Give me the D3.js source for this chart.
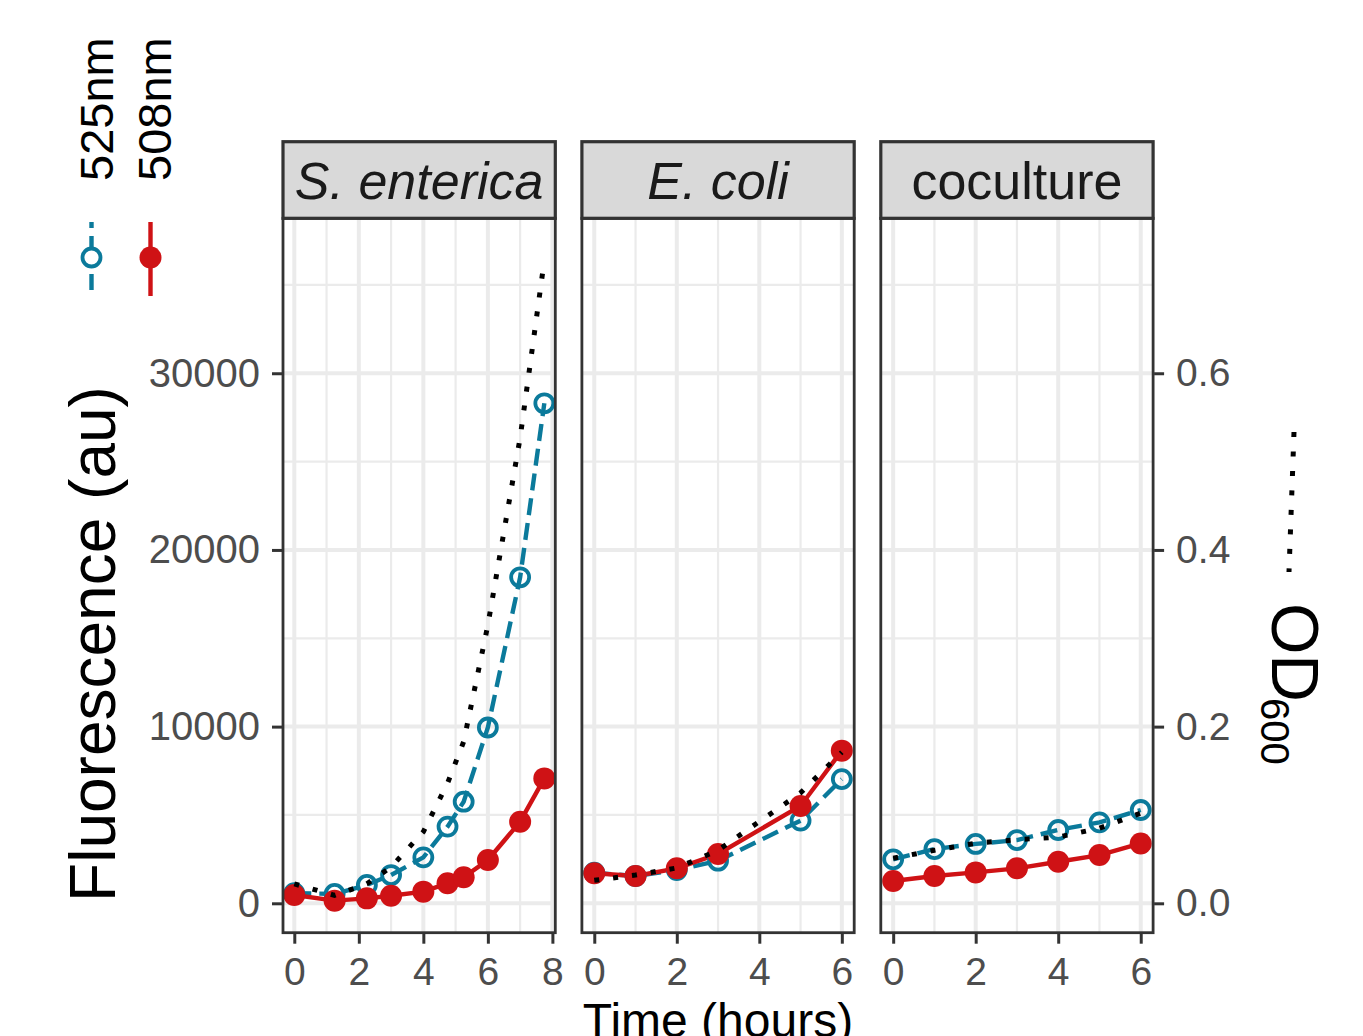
<!DOCTYPE html>
<html>
<head>
<meta charset="utf-8">
<script src="https://cdn.jsdelivr.net/npm/d3@7"></script>
<style>
  body { margin: 0; background: #fff; }
  svg { display: block; font-family: "Liberation Sans", Arial, sans-serif; }
</style>
</head>
<body>
<svg id="chart" width="1363" height="1036"></svg>
<script>
// panel names
const panelNames = ["S. enterica", "E. coli", "coculture"];
const panelItalic = [true, true, false];

// time points (hours)
const entTimes = [0, 1.25, 2.25, 3, 4, 4.75, 5.25, 6, 7, 7.75];
const ecoTimes = [0, 1, 2, 3, 5, 6];
const cocTimes = [0, 1, 2, 3, 4, 5, 6];

// fluorescence 525nm (au)
const ent525 = [570, 530, 1040, 1600, 2600, 4340, 5750, 9950, 18450, 28300];
const eco525 = [1730, 1545, 1885, 2410, 4680, 7030];
const coc525 = [2490, 3070, 3360, 3580, 4150, 4580, 5280];

// fluorescence 508nm (au)
const ent508 = [470, 150, 280, 430, 660, 1130, 1470, 2450, 4620, 7070];
const eco508 = [1700, 1545, 1980, 2790, 5510, 8640];
const coc508 = [1260, 1545, 1750, 1980, 2350, 2730, 3390];

// OD600
const entOD = [0.022, 0.009, 0.022, 0.041, 0.081, 0.136, 0.183, 0.315, 0.527, 0.728];
const ecoOD = [0.026, 0.032, 0.040, 0.060, 0.125, 0.171];
const cocOD = [0.051, 0.060, 0.068, 0.072, 0.075, 0.085, 0.102];

// axis ticks
const yTicks = [0, 10000, 20000, 30000];
const yMinor = [5000, 15000, 25000, 35000];
const odTicks = [0, 0.2, 0.4, 0.6];
const xTicksEnt = [0, 2, 4, 6, 8];
const xTicksOther = [0, 2, 4, 6];

const odFactor = 50000; // secondary axis: OD * 50000 = fluorescence

const blue = "#0b7a9b";
const red = "#cf1215";
const gridCol = "#ebebeb";
const dark = "#333333";
const tickText = "#4d4d4d";

const svg = d3.select("#chart");

const panelTop = 218.3, panelBottom = 932.7;
const stripTop = 141.7;
const panelW = 272.3, panelGap = 26.6, panelLeft0 = 283;

const y = d3.scaleLinear().domain([-1664, 38770]).range([panelBottom, panelTop]);
const yOD = d3.scaleLinear().domain([-1664 / odFactor, 38770 / odFactor]).range([panelBottom, panelTop]);

const panels = [
    { times: entTimes, f525: ent525, f508: ent508, od: entOD, dom: [-0.35, 8.09], ticks: xTicksEnt },
    { times: ecoTimes, f525: eco525, f508: eco508, od: ecoOD, dom: [-0.3, 6.3], ticks: xTicksOther },
    { times: cocTimes, f525: coc525, f508: coc508, od: cocOD, dom: [-0.3, 6.3], ticks: xTicksOther }
];

function drawPanel(p, i) {
    const left = panelLeft0 + i * (panelW + panelGap);
    const x = d3.scaleLinear().domain(p.dom).range([left, left + panelW]);
    const g = svg.append("g");

    // grid: minor then major
    const xMinor = d3.range(1, p.dom[1], 2);
    g.selectAll(".hmin").data(yMinor).join("line")
        .attr("x1", left).attr("x2", left + panelW)
        .attr("y1", d => y(d)).attr("y2", d => y(d))
        .attr("stroke", gridCol).attr("stroke-width", 2.2);
    g.selectAll(".vmin").data(xMinor).join("line")
        .attr("y1", panelTop).attr("y2", panelBottom)
        .attr("x1", d => x(d)).attr("x2", d => x(d))
        .attr("stroke", gridCol).attr("stroke-width", 2.2);
    g.selectAll(".hmaj").data(yTicks).join("line")
        .attr("x1", left).attr("x2", left + panelW)
        .attr("y1", d => y(d)).attr("y2", d => y(d))
        .attr("stroke", gridCol).attr("stroke-width", 4);
    g.selectAll(".vmaj").data(p.ticks).join("line")
        .attr("y1", panelTop).attr("y2", panelBottom)
        .attr("x1", d => x(d)).attr("x2", d => x(d))
        .attr("stroke", gridCol).attr("stroke-width", 4);

    const pts525 = p.times.map((t, k) => [t, p.f525[k]]);
    const pts508 = p.times.map((t, k) => [t, p.f508[k]]);
    const ptsOD = p.times.map((t, k) => [t, p.od[k]]);

    const line = d3.line().x(d => x(d[0])).y(d => y(d[1]));
    const lineOD = d3.line().x(d => x(d[0])).y(d => yOD(d[1]));

    g.append("path").attr("d", line(pts525))
        .attr("fill", "none").attr("stroke", blue).attr("stroke-width", 4.4)
        .attr("stroke-dasharray", "17,8");
    g.append("path").attr("d", line(pts508))
        .attr("fill", "none").attr("stroke", red).attr("stroke-width", 4.4);

    g.selectAll(".p525").data(pts525).join("circle")
        .attr("cx", d => x(d[0])).attr("cy", d => y(d[1])).attr("r", 9)
        .attr("fill", "none").attr("stroke", blue).attr("stroke-width", 3.8);
    g.selectAll(".p508").data(pts508).join("circle")
        .attr("cx", d => x(d[0])).attr("cy", d => y(d[1])).attr("r", 11)
        .attr("fill", red);

    g.append("path").attr("d", lineOD(ptsOD))
        .attr("fill", "none").attr("stroke", "#000").attr("stroke-width", 5)
        .attr("stroke-dasharray", "5,14");

    // panel border
    g.append("rect")
        .attr("x", left).attr("y", panelTop).attr("width", panelW).attr("height", panelBottom - panelTop)
        .attr("fill", "none").attr("stroke", dark).attr("stroke-width", 2.8);

    // strip
    g.append("rect")
        .attr("x", left).attr("y", stripTop).attr("width", panelW).attr("height", panelTop - stripTop)
        .attr("fill", "#d9d9d9").attr("stroke", dark).attr("stroke-width", 3.2);
    g.append("text")
        .attr("x", left + panelW / 2).attr("y", 198.5)
        .attr("text-anchor", "middle")
        .attr("font-size", 52)
        .attr("font-style", panelItalic[i] ? "italic" : "normal")
        .attr("fill", "#1a1a1a")
        .text(panelNames[i]);

    // x axis
    const xAxis = svg.append("g")
        .attr("transform", "translate(0," + (panelBottom + 1) + ")")
        .call(d3.axisBottom(x).tickValues(p.ticks).tickFormat(d3.format("d")).tickSize(10).tickPadding(14));
    styleAxis(xAxis, 39);

    if (i === 0) {
        const yAxis = svg.append("g")
            .attr("transform", "translate(" + (left - 1) + ",0)")
            .call(d3.axisLeft(y).tickValues(yTicks).tickFormat(d3.format("d")).tickSize(10).tickPadding(12));
        styleAxis(yAxis, 40);
    }
    if (i === 2) {
        const rAxis = svg.append("g")
            .attr("transform", "translate(" + (left + panelW + 1) + ",0)")
            .call(d3.axisRight(yOD).tickValues(odTicks).tickFormat(d3.format(".1f")).tickSize(10).tickPadding(12));
        styleAxis(rAxis, 39);
    }
}

function styleAxis(a, size) {
    a.select(".domain").remove();
    a.selectAll(".tick line").attr("stroke", dark).attr("stroke-width", 3);
    a.selectAll(".tick text")
        .attr("fill", tickText)
        .attr("font-size", size)
        .attr("font-family", "Liberation Sans, Arial, sans-serif");
}

panels.forEach(drawPanel);

// axis titles
svg.append("text")
    .attr("transform", "translate(115,644) rotate(-90)")
    .attr("text-anchor", "middle")
    .attr("font-size", 64)
    .attr("fill", "#000")
    .text("Fluorescence (au)");

svg.append("text")
    .attr("x", 718).attr("y", 1037)
    .attr("text-anchor", "middle")
    .attr("font-size", 48)
    .attr("fill", "#000")
    .text("Time (hours)");

// right title OD600 with subscript
const odTitle = svg.append("text")
    .attr("transform", "translate(1272,603) rotate(90)")
    .attr("fill", "#000");
odTitle.append("tspan").attr("font-size", 66).text("OD");
odTitle.append("tspan").attr("font-size", 40).attr("dy", 11).attr("dx", -4).text("600");

// OD legend key
svg.append("line")
    .attr("x1", 1294).attr("y1", 432).attr("x2", 1289).attr("y2", 572)
    .attr("stroke", "#000").attr("stroke-width", 5)
    .attr("stroke-dasharray", "5,14.5");

// colour legend (rotated)
const legendItems = [
    { label: "525nm", color: blue, x: 91.5, tx: 113, dashed: true, open: true },
    { label: "508nm", color: red, x: 150.5, tx: 171, dashed: false, open: false }
];
legendItems.forEach(d => {
    svg.append("line")
        .attr("x1", d.x).attr("x2", d.x).attr("y1", 222).attr("y2", 296)
        .attr("stroke", d.color).attr("stroke-width", 4.4)
        .attr("stroke-dasharray", d.dashed ? "6,8,16,8" : null);
    svg.append("circle")
        .attr("cx", d.x).attr("cy", 257.5)
        .attr("r", d.open ? 9 : 11)
        .attr("fill", d.open ? "#fff" : d.color)
        .attr("stroke", d.open ? d.color : "none")
        .attr("stroke-width", 3.8);
    svg.append("text")
        .attr("transform", "translate(" + d.tx + ",181) rotate(-90)")
        .attr("font-size", 47)
        .attr("fill", "#000")
        .text(d.label);
});
</script>
</body>
</html>
